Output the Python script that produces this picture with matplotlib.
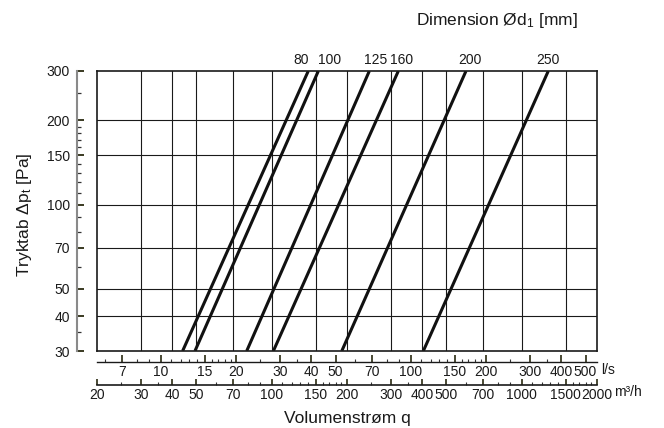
import matplotlib
matplotlib.use('Agg')
import matplotlib.pyplot as plt
from matplotlib.ticker import FixedLocator, NullFormatter, NullLocator
import numpy as np

plt.rcParams['font.family'] = ['Liberation Sans', 'DejaVu Sans']
plt.rcParams['mathtext.fontset'] = 'custom'
plt.rcParams['mathtext.rm'] = 'Liberation Sans'
plt.rcParams['mathtext.it'] = 'Liberation Sans:italic'

# ---- data ----
dimensions = ['80', '100', '125', '160', '200', '250']
pressure_ends = [30, 300]                                   # Pa
flow_at_30pa = [44.0, 49.3, 79.4, 101.5, 190.6, 403.9]      # m3/h at 30 Pa
flow_at_300pa = [140.0, 153.6, 245.7, 320.9, 598.4, 1277.0]  # m3/h at 300 Pa

y_ticks = [30, 40, 50, 70, 100, 150, 200, 300]
y_minor = [35, 60, 80, 90, 110, 120, 130, 140, 160, 170, 180, 190, 250]
grid_x = [30, 40, 50, 70, 100, 150, 200, 300, 400, 500, 700, 1000, 1500]
grid_y = [40, 50, 70, 100, 150, 200]
ls_ticks = [7, 10, 15, 20, 30, 40, 50, 70, 100, 150, 200, 300, 400, 500]
ls_minor = [6, 8, 9, 11, 12, 13, 14, 16, 17, 18, 19, 25, 35, 60, 80, 90,
            110, 120, 130, 140, 160, 170, 180, 190, 250, 350]
m3h_ticks = [20, 30, 40, 50, 70, 100, 150, 200, 300, 400, 500, 700, 1000, 1500, 2000]
m3h_minor = [25, 35, 60, 80, 90, 110, 120, 130, 140, 160, 170, 180, 190, 250, 350,
             600, 800, 900, 1100, 1200, 1300, 1400, 1600, 1700, 1800, 1900]

# label offsets (points) for the dimension labels
label_dx = [-5, 8, 4.5, 2.5, 3, 0]

W, H = 664, 428
fig = plt.figure(figsize=(W / 100, H / 100), dpi=100)
ax = fig.add_axes([97 / W, 1 - 351 / H, 500 / W, 280 / H])
ax.set_xscale('log')
ax.set_yscale('log')
ax.set_xlim(20, 2000)
ax.set_ylim(30, 300)
ax.xaxis.set_major_locator(FixedLocator(grid_x))
ax.yaxis.set_major_locator(FixedLocator(grid_y))
ax.xaxis.set_minor_locator(NullLocator())
ax.yaxis.set_minor_locator(NullLocator())
ax.tick_params(which='both', length=0, labelbottom=False, labelleft=False)
ax.grid(True, which='major', color='#1a1a1a', lw=0.8)
for sp in ax.spines.values():
    sp.set_linewidth(1.2)
    sp.set_color('#1a1a1a')

txt = '#1a1a1a'
fs_x = 10
fs_y = 10
fs_lab = 12.5
for d, q1, q2, dx in zip(dimensions, flow_at_30pa, flow_at_300pa, label_dx):
    ax.plot([q1, q2], pressure_ends, color='#111111', lw=2.2, solid_capstyle='butt')
    ax.annotate(d, xy=(q2, pressure_ends[1]), xytext=(dx, 8), textcoords='offset points',
                ha='center', va='center', fontsize=fs_x, color=txt, annotation_clip=False)

# y axis (offset to the left)
secy = ax.secondary_yaxis(-0.04)
secy.set_ticks(y_ticks, labels=[str(v) for v in y_ticks])
secy.yaxis.set_minor_locator(FixedLocator(y_minor))
secy.yaxis.set_minor_formatter(NullFormatter())
secy.tick_params(which='major', direction='in', length=4.7, width=1.3, pad=5,
                 labelsize=fs_y, labelcolor=txt, color='#2a2a10')
secy.tick_params(which='minor', direction='in', length=2.9, width=0.9, color='#333333')
secy.spines['left'].set_color('#8a8a8a')
secy.spines['left'].set_linewidth(1.5)

# l/s axis
secx1 = ax.secondary_xaxis(-0.0375, functions=(lambda q: np.asarray(q) / 3.6,
                                               lambda l: np.asarray(l) * 3.6))
secx1.set_ticks(ls_ticks, labels=[str(v) for v in ls_ticks])
secx1.xaxis.set_minor_locator(FixedLocator(ls_minor))
secx1.xaxis.set_minor_formatter(NullFormatter())
secx1.tick_params(which='major', direction='in', length=4.7, width=1.2, pad=2.5,
                  labelsize=fs_x, labelcolor=txt, color='#2a2a10')
secx1.tick_params(which='minor', direction='in', length=2.4, width=0.8, color='#333333')
secx1.spines['bottom'].set_color('#1a1a1a')
secx1.spines['bottom'].set_linewidth(1.0)

# m3/h axis
secx2 = ax.secondary_xaxis(-0.121, functions=(lambda q: np.asarray(q),
                                              lambda q: np.asarray(q)))
secx2.set_ticks(m3h_ticks, labels=[str(v) for v in m3h_ticks])
secx2.xaxis.set_minor_locator(FixedLocator(m3h_minor))
secx2.xaxis.set_minor_formatter(NullFormatter())
secx2.tick_params(which='major', direction='in', length=4.0, width=1.2, pad=2,
                  labelsize=fs_x, labelcolor=txt, color='#2a2a10')
secx2.tick_params(which='minor', direction='in', length=2.2, width=0.8, color='#333333')
secx2.spines['bottom'].set_color('#1a1a1a')
secx2.spines['bottom'].set_linewidth(1.2)

fig.text(601 / W, 1 - 370 / H, 'l/s', ha='left', va='center', fontsize=fs_x, color=txt)
fig.text(614 / W, 1 - 392 / H, 'm³/h', ha='left', va='center', fontsize=fs_x, color=txt)
fig.text(347 / W, 1 - 418 / H, 'Volumenstrøm q', ha='center', va='center',
         fontsize=fs_lab, color=txt)
fig.text(24 / W, 1 - 215 / H, r'Tryktab Δp$_\mathregular{t}$ [Pa]', ha='center', va='center',
         rotation=90, fontsize=fs_lab, color=txt)
fig.text(497 / W, 1 - 21 / H, r'Dimension Ød$_\mathregular{1}$ [mm]', ha='center', va='center',
         fontsize=fs_lab, color=txt)

fig.savefig('out.png', dpi=100)
